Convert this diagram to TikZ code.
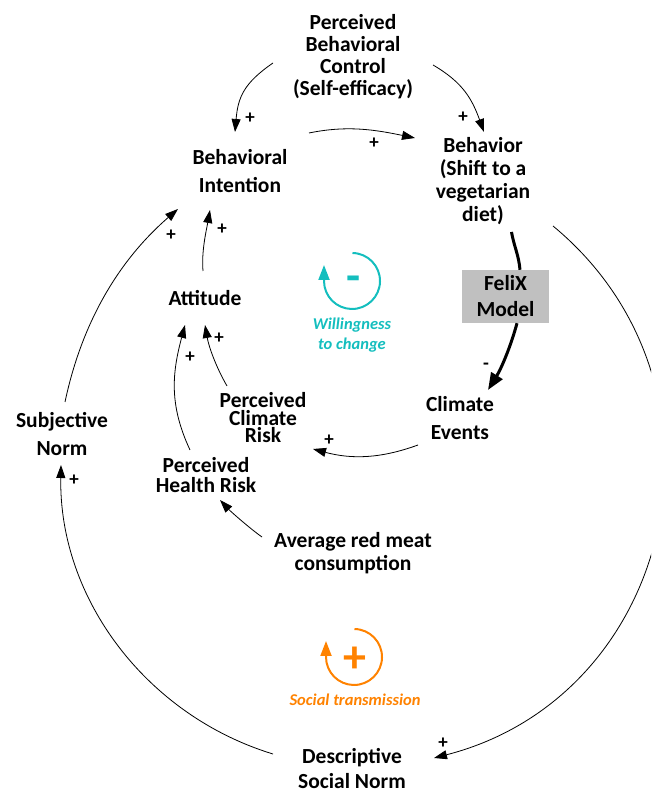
\documentclass[tikz,border=0pt]{standalone}
\usepackage{fontspec}
\setmainfont{Carlito}
\usetikzlibrary{arrows.meta}
\definecolor{tealc}{RGB}{20,190,190}
\definecolor{orngc}{RGB}{255,130,0}
\definecolor{boxgray}{RGB}{192,192,192}
\begin{document}
\begin{tikzpicture}[x=1pt,y=1pt,
  lbl/.style={font=\fontsize{21.5}{#1}\selectfont\bfseries, align=center, inner sep=0pt},
  sgn/.style={font=\fontsize{19}{19}\selectfont\bfseries, inner sep=0pt},
  arr/.style={-{Triangle[length=13pt,width=9pt]}, line width=0.8pt},
  thk/.style={line width=3pt},
  loopw/.style={line width=2pt, -{Triangle[length=15pt,width=11pt]}},
  bigsign/.style={font=\fontsize{46}{46}\selectfont\bfseries, inner sep=0pt},
  looptxt/.style={font=\fontsize{16.5}{20}\selectfont\bfseries\itshape, align=center, inner sep=0pt}]
\useasboundingbox (0,0) rectangle (651,791);
\clip (0,0) rectangle (651,791);

% nodes
\node[lbl=22] (pbc) at (353,734) {Perceived\\Behavioral\\Control\\(Self-efficacy)};
\node[lbl=28] (bi) at (240,620) {Behavioral\\Intention};
\node[lbl=23] (beh) at (483,609.5) {Behavior\\(Shift to a\\vegetarian\\diet)};
\node[lbl=22] (att) at (205,493) {Attitude};
\node[lbl=17.5] (pcr) at (263,373) {Perceived\\Climate\\Risk};
\node[lbl=28] (ce) at (460,373) {Climate\\Events};
\node[lbl=28] (sn) at (62,357) {Subjective\\Norm};
\node[lbl=20] (phr) at (206,316) {Perceived\\Health Risk};
\node[lbl=23] (arm) at (353,238) {Average red meat\\consumption};
\node[lbl=25] (dsn) at (352,22.5) {Descriptive\\Social Norm};

% connectors
\draw[arr] ([shift={(-80,-6)}]pbc.center) .. controls +(-29,-20) and +(3,35) .. ([shift={(-5,39)}]bi.center);
\draw[arr] ([shift={(80,-8)}]pbc.center) .. controls +(30,-17.5) and +(-12,33) .. ([shift={(1,49.5)}]beh.center);
\draw[arr] ([shift={(69,38)}]bi.center) .. controls +(39,8) and +(-39,8) .. ([shift={(-68,43.5)}]beh.center);
\node[lbl=26, fill=boxgray, minimum width=87pt, minimum height=53pt] (felix) at (505.5,494.5) {FeliX\\Model};
\draw[thk] ([shift={(28.5,-50.5)}]beh.center) .. controls +(2.6,-14.8) and +(-1.3,15) .. ([xshift=14.5]felix.north);
\draw[thk, -{Triangle[length=17pt,width=13pt]}] ([xshift=11.5]felix.south) .. controls +(-6.5,-24) and +(13,21) .. ([shift={(28,28)}]ce.center);
\draw[arr] ([shift={(-42,-27)}]ce.center) .. controls +(-37.6,-13.7) and +(38.6,-10.4) .. ([shift={(50,-31)}]pcr.center);
\draw[arr] ([shift={(-36,32)}]pcr.center) .. controls +(-11,19) and +(3.8,-21.7) .. ([shift={(0,-27)}]att.center);
\draw[arr] ([shift={(-16,25)}]phr.center) .. controls +(-21.1,45.3) and +(-12.9,-48.3) .. ([shift={(-20,-27)}]att.center);
\draw[arr] ([shift={(-2,27)}]att.center) .. controls +(-1.7,19.9) and +(-3.5,-19.7) .. ([shift={(-30,-39)}]bi.center);
\draw[arr] ([shift={(3,32)}]sn.center) .. controls +(16.6,78.3) and +(-60.4,-52.4) .. ([shift={(-62,-38)}]bi.center);
\draw[arr] ([shift={(-79,14.5)}]dsn.center) .. controls +(-127.2,38.9) and +(-2.3,-133) .. ([shift={(-1,-31)}]sn.center);
\draw[arr] ([shift={(70,-44.5)}]beh.center) .. controls +(192.7,-159.4) and +(242.1,62.2) .. ([shift={(82,10.5)}]dsn.center);
\draw[arr] ([shift={(-91,16)}]arm.center) .. controls +(-12.3,8.6) and +(10.2,-11) .. ([shift={(14,-25)}]phr.center);

% polarity labels
\node[sgn] (s1) at (250,673) {+};
\node[sgn] (s2) at (463,674) {+};
\node[sgn] (s3) at (374,648) {+};
\node[sgn] (s4) at (222,562) {+};
\node[sgn] (s5) at (171,556) {+};
\node[sgn] (s6) at (219,453) {+};
\node[sgn] (s7) at (190,434) {+};
\node[sgn] (s8) at (329,351) {+};
\node[sgn] (s9) at (74,311) {+};
\node[sgn] (s10) at (443,48) {+};
\node[sgn] (s11) at (486,425) {-};

% loop symbols
\draw[loopw, tealc] (352,510) ++(89:28) arc[start angle=89, end angle=-180, radius=28] -- ++(0,16);
\node[bigsign, text=tealc] (wsign) at (354,507) {-};
\node[looptxt, text=tealc] (wtxt) at (352,456) {Willingness\\to change};
\draw[loopw, orngc] (354,134) ++(89:28) arc[start angle=89, end angle=-180, radius=28] -- ++(0,16);
\node[bigsign, text=orngc] (ssign) at (355,131) {+};
\node[looptxt, text=orngc] (stxt) at (355,91) {Social transmission};
\end{tikzpicture}
\end{document}
